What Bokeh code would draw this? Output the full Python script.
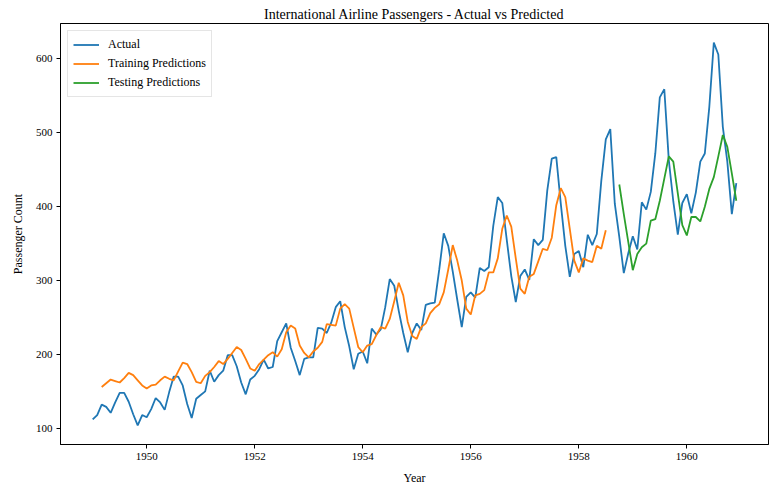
from bokeh.plotting import figure
from bokeh.embed import file_html
from bokeh.resources import INLINE
from bokeh.models import Legend, LegendItem, Range1d, FixedTicker

FONT = "Liberation Serif"

start_year = 1949
actual = [112, 118, 132, 129, 121, 135, 148, 148, 136, 119, 104, 118,
          115, 126, 141, 135, 125, 149, 170, 170, 158, 133, 114, 140,
          145, 150, 178, 163, 172, 178, 199, 199, 184, 162, 146, 166,
          171, 180, 193, 181, 183, 218, 230, 242, 209, 191, 172, 194,
          196, 196, 236, 235, 229, 243, 264, 272, 237, 211, 180, 201,
          204, 188, 235, 227, 234, 264, 302, 293, 259, 229, 203, 229,
          242, 233, 267, 269, 270, 315, 364, 347, 312, 274, 237, 278,
          284, 277, 317, 313, 318, 374, 413, 405, 355, 306, 271, 306,
          315, 301, 356, 348, 355, 422, 465, 467, 404, 347, 305, 336,
          340, 318, 362, 348, 363, 435, 491, 505, 404, 359, 310, 337,
          360, 342, 406, 396, 420, 472, 548, 559, 463, 407, 362, 405,
          417, 391, 419, 461, 472, 535, 622, 606, 508, 461, 390, 432]

train_start = 2  # month index of first training prediction
train_pred = [156, 161, 166, 164, 162, 168, 175, 172, 165, 158,
              154, 158, 159, 165, 170, 167, 165, 177, 189, 187, 176, 163,
              161, 171, 176, 183, 191, 187, 194, 202, 210, 206, 194, 181,
              178, 187, 193, 199, 203, 197, 207, 230, 239, 235, 212, 202,
              196, 204, 209, 217, 241, 240, 239, 262, 268, 262, 236, 210,
              203, 212, 214, 226, 237, 235, 248, 272, 297, 280, 244, 225,
              221, 237, 242, 256, 263, 268, 284, 315, 348, 327, 300, 262,
              254, 280, 282, 287, 311, 311, 330, 370, 388, 373, 330, 289,
              282, 305, 309, 326, 343, 341, 358, 402, 425, 413, 370, 327,
              311, 330, 327, 325, 347, 343, 368]

test_start = 117  # month index of first testing prediction
test_pred = [430, 390, 352, 314, 336, 345, 350, 381, 383, 408, 438, 468,
             461, 418, 375, 361, 386, 386, 380, 400, 424, 440, 468, 497,
             481, 445, 408]

x_ticks = [1950, 1952, 1954, 1956, 1958, 1960]
y_ticks = [100, 200, 300, 400, 500, 600]


def years(first, n):
    return [start_year + (first + k) / 12 for k in range(n)]


x_act = years(0, len(actual))
x_train = years(train_start, len(train_pred))
x_test = years(test_start, len(test_pred))

xmin, xmax = x_act[0], x_act[-1]
xpad = (xmax - xmin) * 0.05
ymin, ymax = min(actual), max(actual)
ypad = (ymax - ymin) * 0.05

p = figure(width=781, height=487, output_backend="svg", toolbar_location=None,
           title="International Airline Passengers - Actual vs Predicted",
           x_range=Range1d(xmin - xpad, xmax + xpad),
           y_range=Range1d(ymin - ypad, ymax + ypad),
           min_border_left=60, min_border_right=13,
           min_border_top=23, min_border_bottom=41)

p.title.align = "center"
p.title.text_font = FONT
p.title.text_font_size = "14px"
p.title.text_font_style = "normal"
p.title.text_color = "black"
p.title.standoff = 3

p.grid.visible = False
p.outline_line_color = "black"
p.outline_line_width = 1
p.background_fill_color = "white"
p.border_fill_color = "white"

for ax in (p.xaxis[0], p.yaxis[0]):
    ax.major_label_text_font = FONT
    ax.major_label_text_font_size = "11px"
    ax.major_label_text_color = "black"
    ax.axis_label_text_font = FONT
    ax.axis_label_text_font_size = "12px"
    ax.axis_label_text_font_style = "normal"
    ax.axis_label_text_color = "black"
    ax.minor_tick_line_color = None
    ax.major_tick_in = 0
    ax.major_tick_out = 4
    ax.major_label_standoff = 4
    ax.axis_label_standoff = 8
    ax.axis_line_color = "black"

p.xaxis.axis_label = "Year"
p.yaxis.axis_label = "Passenger Count"
p.xaxis.ticker = FixedTicker(ticks=x_ticks)
p.yaxis.ticker = FixedTicker(ticks=y_ticks)

r1 = p.line(x_act, actual, line_color="#1f77b4", line_width=1.8)
r2 = p.line(x_train, train_pred, line_color="#ff7f0e", line_width=1.8)
r3 = p.line(x_test, test_pred, line_color="#2ca02c", line_width=1.8)

legend = Legend(items=[LegendItem(label="Actual", renderers=[r1]),
                       LegendItem(label="Training Predictions", renderers=[r2]),
                       LegendItem(label="Testing Predictions", renderers=[r3])],
                location="top_left")
legend.label_text_font = FONT
legend.label_text_font_size = "12px"
legend.label_text_color = "black"
legend.glyph_width = 26
legend.glyph_height = 17
legend.label_height = 17
legend.label_standoff = 9
legend.spacing = 2
legend.padding = 5
legend.margin = 7
legend.border_line_color = "#cccccc"
legend.border_line_width = 1
legend.background_fill_alpha = 0.8
p.add_layout(legend)

open("out.html", "w").write(file_html(p, INLINE))
